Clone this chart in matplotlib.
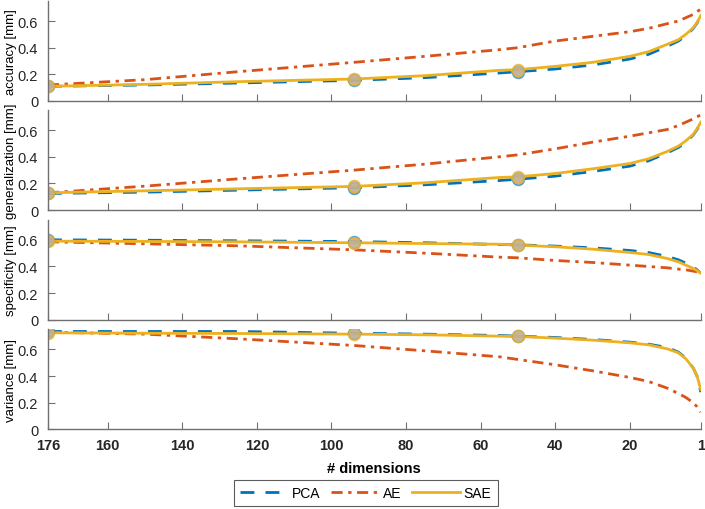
import numpy as np
import matplotlib
matplotlib.use('Agg')
import matplotlib.pyplot as plt

plt.rcParams['font.family'] = ['Liberation Sans', 'DejaVu Sans']

# dimensoes avaliadas (eixo x invertido)
dims = [176, 150, 125, 94, 75, 55, 50, 40, 30, 20, 15, 10, 7, 5, 3, 2, 1]
marker_dims = [176, 94, 50]

# accuracy [mm]
acc_pca = [0.11, 0.12, 0.135, 0.155, 0.175, 0.21, 0.22, 0.24, 0.27, 0.315, 0.35, 0.41, 0.45, 0.49, 0.545, 0.585, 0.635]
acc_ae = [0.12, 0.16, 0.22, 0.29, 0.335, 0.385, 0.40, 0.45, 0.485, 0.52, 0.545, 0.58, 0.60, 0.625, 0.65, 0.67, 0.69]
acc_sae = [0.11, 0.125, 0.145, 0.165, 0.19, 0.23, 0.235, 0.26, 0.29, 0.335, 0.37, 0.425, 0.46, 0.50, 0.55, 0.59, 0.64]

# generalization [mm]
gen_pca = [0.125, 0.135, 0.15, 0.168, 0.19, 0.222, 0.232, 0.255, 0.29, 0.33, 0.37, 0.43, 0.47, 0.51, 0.565, 0.605, 0.655]
gen_ae = [0.13, 0.18, 0.235, 0.30, 0.345, 0.40, 0.415, 0.46, 0.51, 0.555, 0.58, 0.605, 0.635, 0.66, 0.685, 0.70, 0.715]
gen_sae = [0.13, 0.145, 0.16, 0.178, 0.205, 0.245, 0.25, 0.275, 0.31, 0.35, 0.385, 0.44, 0.48, 0.52, 0.57, 0.61, 0.66]

# specificity [mm]
spe_pca = [0.60, 0.597, 0.593, 0.587, 0.578, 0.565, 0.562, 0.553, 0.54, 0.52, 0.505, 0.475, 0.45, 0.425, 0.395, 0.375, 0.35]
spe_ae = [0.585, 0.57, 0.555, 0.525, 0.50, 0.47, 0.465, 0.445, 0.43, 0.41, 0.40, 0.39, 0.38, 0.375, 0.365, 0.36, 0.35]
spe_sae = [0.59, 0.588, 0.585, 0.578, 0.572, 0.567, 0.56, 0.548, 0.53, 0.505, 0.49, 0.46, 0.435, 0.41, 0.385, 0.37, 0.35]

# variance [mm]
var_pca = [0.735, 0.735, 0.735, 0.722, 0.715, 0.705, 0.70, 0.69, 0.675, 0.655, 0.64, 0.615, 0.58, 0.535, 0.46, 0.40, 0.28]
var_ae = [0.73, 0.715, 0.68, 0.63, 0.59, 0.545, 0.525, 0.485, 0.44, 0.39, 0.36, 0.31, 0.27, 0.24, 0.20, 0.17, 0.13]
var_sae = [0.725, 0.722, 0.72, 0.715, 0.71, 0.70, 0.698, 0.685, 0.67, 0.65, 0.635, 0.605, 0.575, 0.53, 0.46, 0.40, 0.30]

ylabels = ['accuracy [mm]', 'generalization [mm]', 'specificity [mm]', 'variance [mm]']
series = [(acc_pca, acc_ae, acc_sae), (gen_pca, gen_ae, gen_sae),
          (spe_pca, spe_ae, spe_sae), (var_pca, var_ae, var_sae)]
xticks = [176, 160, 140, 120, 100, 80, 60, 40, 20, 1]

c_pca = '#0072BD'
c_ae = '#D95319'
c_sae = '#EDB120'
c_axis = '#707070'

fig = plt.figure(figsize=(7.05, 5.1), dpi=100)
bottoms = [0.800, 0.586, 0.371, 0.156]
axes = []
for i in range(4):
    ax = fig.add_axes([0.068, bottoms[i], 0.926, 0.196])
    axes.append(ax)
    pca, ae, sae = series[i]
    ax.plot(dims, pca, '--', color=c_pca, lw=2, dashes=(5, 4), label='PCA')
    ax.plot(dims, ae, '-.', color=c_ae, lw=2, dashes=(4, 2, 1.2, 2), label='AE')
    ax.plot(dims, sae, '-', color=c_sae, lw=2, label='SAE')
    # marcadores nos pontos destacados
    idx = [dims.index(d) for d in marker_dims]
    ax.plot(marker_dims, [pca[k] for k in idx], 'o', ms=8.5, mfc=(0.6, 0.6, 0.6, 0.35),
            mec=c_pca, mew=1.2, alpha=0.6, ls='none')
    ax.plot(marker_dims, [sae[k] for k in idx], 'o', ms=8.5, mfc=(0.78, 0.7, 0.58, 0.5),
            mec=c_sae, mew=1.2, alpha=0.8, ls='none')

    ax.set_xlim(176, 1)
    ax.set_ylim(0, 0.75)
    ax.set_yticks([0, 0.2, 0.4, 0.6])
    ax.set_yticklabels(['0', '0.2', '0.4', '0.6'])
    ax.set_xticks(xticks)
    ax.tick_params(direction='in', length=5, color=c_axis, labelsize=10.5, pad=2,
                   labelcolor='#262626')
    ax.tick_params(axis='y', pad=7)
    for s in ['top', 'right']:
        ax.spines[s].set_visible(False)
    for s in ['left', 'bottom']:
        ax.spines[s].set_color(c_axis)
        ax.spines[s].set_linewidth(1.0)
    ax.set_ylabel(ylabels[i], fontsize=9.5)
    ax.yaxis.set_label_coords(-0.048, 0.5)
    if i < 3:
        ax.set_xticklabels([])
    else:
        ax.set_xticklabels([str(t) for t in xticks], fontsize=10.5, fontweight='bold')
        ax.tick_params(axis='x', pad=6)
        ax.set_xlabel('# dimensions', fontsize=10.5, fontweight='bold', labelpad=7)

h, l = axes[0].get_legend_handles_labels()
leg = fig.legend(h, l, loc='center', bbox_to_anchor=(0.519, 0.031), ncol=3,
                 fontsize=10, frameon=True, fancybox=False, handlelength=3.4,
                 columnspacing=0.8, handletextpad=0.3, borderpad=0.45)
leg.get_frame().set_edgecolor('#333333')
leg.get_frame().set_linewidth(0.8)

fig.savefig('out.png', dpi=100)
